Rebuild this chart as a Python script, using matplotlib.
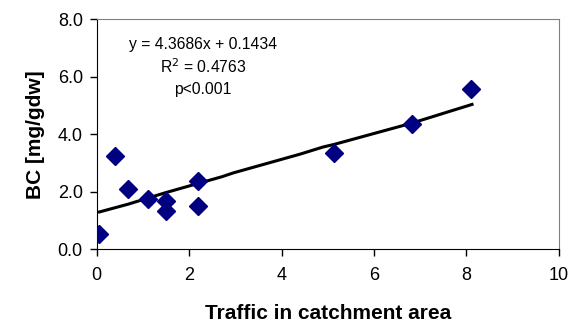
import matplotlib
matplotlib.use("Agg")
import matplotlib.pyplot as plt
import numpy as np

plt.rcParams['font.family'] = ['Liberation Sans', 'DejaVu Sans']

# traffic vs black carbon measurements
traffic = [0.06, 0.40, 0.68, 1.12, 1.49, 1.49, 2.19, 2.19, 5.14, 6.82, 8.10]
bc = [0.53, 3.26, 2.09, 1.75, 1.68, 1.33, 2.38, 1.51, 3.34, 4.35, 5.58]

# trend line as drawn
trend_x = [0.06, 0.68, 1.49, 2.19, 2.70, 2.96, 4.40, 4.90, 5.14, 6.82, 7.20, 8.12]
trend_y = [1.30, 1.57, 1.97, 2.29, 2.52, 2.66, 3.31, 3.56, 3.65, 4.39, 4.58, 5.04]

eq_lines = ['y = 4.3686x + 0.1434', r'R$^{2}$ = 0.4763', 'p<0.001']

fig = plt.figure(figsize=(5.78, 3.30), dpi=100)
ax = fig.add_axes([0.1673, 0.2445, 0.7997, 0.697])

ax.plot(trend_x, trend_y, '-k', linewidth=2.2, zorder=2)
ax.plot(traffic, bc, 'D', color='#000080', markersize=9.5, zorder=3)

ax.set_xlim(0, 10)
ax.set_ylim(0, 8)
ax.set_xticks(np.arange(0, 11, 2))
ax.set_yticks(np.arange(0, 8.1, 2))
ax.set_yticklabels(['%.1f' % v for v in np.arange(0, 8.1, 2)])
ax.tick_params(direction='out', length=5, width=1, labelsize=13, colors='black')
ax.tick_params(axis='x', pad=8)
ax.tick_params(axis='y', pad=5)
ax.spines['top'].set_color('#808080')
ax.spines['right'].set_color('#808080')
ax.spines['left'].set_color('black')
ax.spines['bottom'].set_color('black')

ax.set_xlabel('Traffic in catchment area', fontsize=15, fontweight='bold', labelpad=14)
ax.set_ylabel('BC [mg/gdw]', fontsize=15, fontweight='bold', labelpad=9)

for txt, yy in zip(eq_lines, [7.14, 6.34, 5.57]):
    ax.text(2.30, yy, txt, ha='center', va='center', fontsize=11.3)

fig.savefig('out.png', dpi=100)
